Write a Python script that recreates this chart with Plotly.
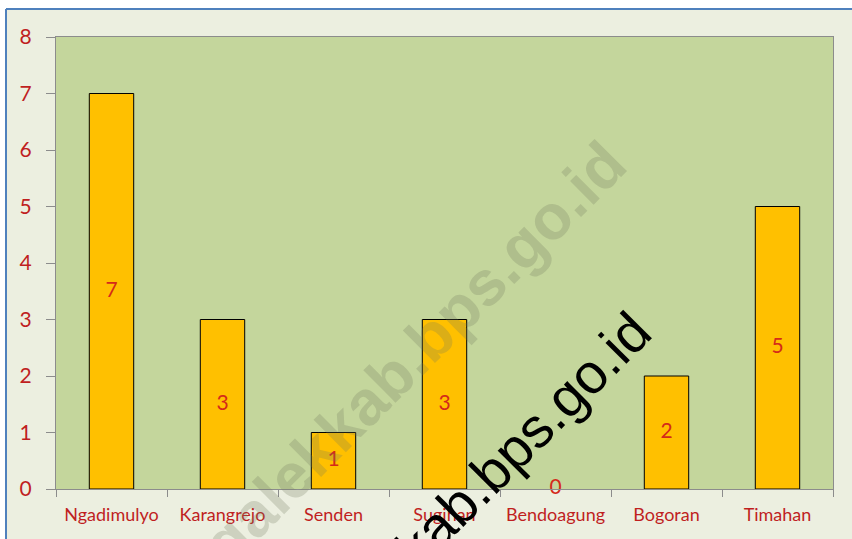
import plotly.graph_objects as go

categories = ["Ngadimulyo", "Karangrejo", "Senden", "Sugihan", "Bendoagung", "Bogoran", "Timahan"]
values = [7, 3, 1, 3, 0, 2, 5]
y_ticks = [0, 1, 2, 3, 4, 5, 6, 7, 8]
watermark = "trenggalekkab.bps.go.id"

W, H = 852, 539
L, R, T, B = 56, 19, 37, 50
PW, PH = W - L - R, H - T - B


def px(x):
    return (x - L) / PW


def py(y):
    return (H - B - y) / PH


fig = go.Figure()
fig.add_trace(go.Bar(
    x=categories, y=values, width=0.4,
    marker=dict(color="#FFC000", line=dict(color="#000000", width=[1 if v > 0 else 0 for v in values])),
    hoverinfo="skip",
))
fig.add_trace(go.Scatter(
    x=categories, y=[v / 2 for v in values], mode="text",
    text=[str(v) for v in values],
    textfont=dict(family="Lato, Open Sans, sans-serif", size=21, color="#D42A1A"),
    cliponaxis=False, hoverinfo="skip",
))

red = "#C01F1F"
fig.update_layout(
    width=W, height=H,
    margin=dict(l=L, r=R, t=T, b=B, autoexpand=False),
    paper_bgcolor="#ECEFE0",
    plot_bgcolor="#C4D69C",
    showlegend=False,
    bargap=0.6,
    xaxis=dict(
        type="category", showgrid=False, showline=True, linecolor="#8C8C8C", linewidth=1,
        mirror=True, ticks="outside", tickson="boundaries", ticklen=7, tickcolor="#8C8C8C",
        tickfont=dict(family="Lato, Open Sans, sans-serif", size=18, color=red),
        ticklabelstandoff=9,
    ),
    yaxis=dict(
        range=[0, 8], tickvals=y_ticks, showgrid=False, zeroline=False,
        showline=True, linecolor="#8C8C8C", linewidth=1, mirror=True,
        ticks="outside", ticklen=9, tickcolor="#8C8C8C",
        tickfont=dict(family="Lato, Open Sans, sans-serif", size=21, color=red),
        ticklabelstandoff=10,
    ),
    shapes=[
        dict(type="rect", xref="paper", yref="paper", x0=px(-5), x1=px(W + 5), y0=py(8), y1=py(-5),
             fillcolor="#FFFFFF", line=dict(width=0), layer="below"),
        dict(type="rect", xref="paper", yref="paper", x0=px(-5), x1=px(6), y0=py(H + 5), y1=py(-5),
             fillcolor="#FFFFFF", line=dict(width=0), layer="below"),
        dict(type="line", xref="paper", yref="paper", x0=px(6), x1=px(W + 5), y0=py(9), y1=py(9),
             line=dict(color="#4F81BD", width=2)),
        dict(type="line", xref="paper", yref="paper", x0=px(6), x1=px(6), y0=py(9), y1=py(H + 5),
             line=dict(color="#4F81BD", width=2)),
    ],
    annotations=[
        dict(text=watermark, xref="paper", yref="paper", x=px(358), y=py(409),
             showarrow=False, textangle=-45, xanchor="center", yanchor="middle",
             font=dict(family="Liberation Sans, Arial, sans-serif", size=63, color="rgba(110,120,90,0.25)"),
             ),
        dict(text=watermark, xref="paper", yref="paper", x=px(430), y=py(532),
             showarrow=False, textangle=-45, xanchor="center", yanchor="middle",
             font=dict(family="Liberation Sans, Arial, sans-serif", size=56, color="#000000"),
             ),
    ],
)
fig.layout.annotations[0].font.weight = "bold"
fig.write_html("out.html", post_script="document.body.style.margin='0';",
               config={"displayModeBar": False})
